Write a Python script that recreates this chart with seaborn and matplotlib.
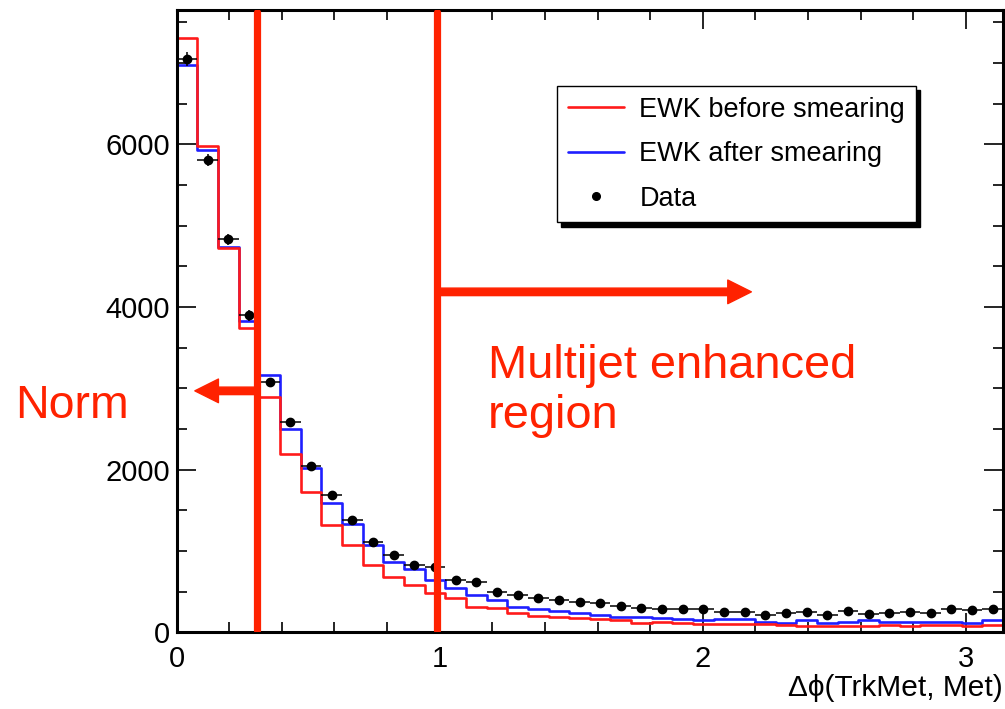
import numpy as np
import pandas as pd
import matplotlib
matplotlib.use("Agg")
import matplotlib.pyplot as plt
from matplotlib.lines import Line2D
from matplotlib.ticker import MultipleLocator
import seaborn as sns

# Binning: 40 uniform bins in delta-phi between 0 and pi
n_bins = 40
edges = np.linspace(0.0, np.pi, n_bins + 1)
centers = 0.5 * (edges[:-1] + edges[1:])

ewk_before = [7300, 5980, 4720, 3745, 2895, 2190, 1725, 1320, 1075, 830,
              685, 585, 480, 420, 316, 296, 234, 195, 193, 172,
              160, 152, 120, 131, 120, 102, 102, 102, 102, 94,
              80, 80, 80, 80, 90, 80, 90, 90, 80, 90]
ewk_after = [6975, 5930, 4737, 3825, 3169, 2500, 2020, 1589, 1334, 1075,
             870, 776, 644, 542, 459, 398, 316, 283, 266, 242,
             213, 193, 185, 180, 160, 152, 160, 160, 131, 119,
             152, 111, 131, 152, 131, 131, 131, 131, 111, 152]
data_counts = [7048, 5808, 4831, 3895, 3074, 2581, 2048, 1682, 1383, 1116,
               944, 829, 800, 644, 623, 500, 459, 419, 398, 377,
               365, 324, 303, 291, 283, 283, 254, 254, 213, 242,
               250, 213, 266, 225, 242, 254, 242, 283, 279, 283]

labels = ["EWK before smearing", "EWK after smearing", "Data"]
x_title = "\u0394\u03d5(TrkMet, Met)"

# Hand-drawn annotation positions (delta-phi, events)
norm_cut = 0.307
enhanced_cut = 0.99
norm_arrow = (0.069, 2968)
enhanced_arrow = (2.185, 4185)

red = "#ff1a1a"
blue = "#1f1fff"
annot = "#ff2200"

sns.set_style("ticks", {
    "axes.edgecolor": "black", "xtick.color": "black", "ytick.color": "black",
    "text.color": "black", "axes.labelcolor": "black",
    "xtick.direction": "in", "ytick.direction": "in",
})
plt.rcParams["font.family"] = ["Liberation Sans", "DejaVu Sans"]

fig = plt.figure(figsize=(10.05, 7.09), dpi=100)
ax = fig.add_axes([0.1758, 0.1082, 0.8222, 0.8777])

hist_df = pd.DataFrame({
    "dphi": np.tile(centers, 2),
    "events": np.r_[ewk_before, ewk_after],
    "sample": [labels[0]] * n_bins + [labels[1]] * n_bins,
})
sns.histplot(data=hist_df, x="dphi", weights="events", hue="sample",
             binwidth=np.pi / n_bins, binrange=(0.0, np.pi),
             element="step", fill=False,
             palette={labels[0]: red, labels[1]: blue},
             linewidth=1.9, legend=False, ax=ax)

data_counts = np.asarray(data_counts, dtype=float)
ax.errorbar(centers, data_counts, yerr=np.sqrt(data_counts),
            xerr=0.5 * np.diff(edges), fmt="o", color="black",
            markersize=6, elinewidth=1.1, capsize=0, zorder=4)

ax.set_xlim(0, np.pi)
ax.set_ylim(0, 7650)
ax.xaxis.set_major_locator(MultipleLocator(1))
ax.xaxis.set_minor_locator(MultipleLocator(0.2))
ax.yaxis.set_major_locator(MultipleLocator(2000))
ax.yaxis.set_minor_locator(MultipleLocator(500))
ax.tick_params(which="both", direction="in", top=True, right=True,
               width=1.2, labelsize=21)
ax.tick_params(which="major", length=14)
ax.tick_params(which="minor", length=7)
ax.tick_params(axis="x", pad=9)
ax.tick_params(axis="y", pad=5)
for s in ax.spines.values():
    s.set_linewidth(2.2)
    s.set_color("black")
    s.set_visible(True)

ax.set_ylabel("")
ax.set_xlabel(x_title, loc="right", fontsize=21.5, labelpad=1)

# Legend with a solid drop shadow
handles = [Line2D([], [], color=red, lw=1.9),
           Line2D([], [], color=blue, lw=1.9),
           Line2D([], [], color="black", marker="o", ls="none", markersize=5.5)]
leg = ax.legend(handles, labels, loc="upper left", bbox_to_anchor=(0.460, 0.878),
                fontsize=19.5, frameon=True, fancybox=False,
                shadow={"color": "black", "alpha": 1, "ox": 3, "oy": -3},
                edgecolor="black", framealpha=1, borderpad=0.4,
                labelspacing=0.68, handlelength=2.1, handletextpad=0.55,
                borderaxespad=0)
leg.get_frame().set_linewidth(1.0)

# Region boundaries and arrows
for xc in (norm_cut, enhanced_cut):
    ax.axvline(xc, ymin=0.004, ymax=0.996, color=annot, lw=5.2, zorder=6)

arrow_style = "simple,head_length=0.85,head_width=0.85,tail_width=0.27"
ax.annotate("", xy=norm_arrow, xytext=(norm_cut, norm_arrow[1]),
            arrowprops=dict(arrowstyle=arrow_style, mutation_scale=20,
                            color=annot, shrinkA=0, shrinkB=0), zorder=6)
ax.annotate("", xy=enhanced_arrow, xytext=(enhanced_cut, enhanced_arrow[1]),
            arrowprops=dict(arrowstyle=arrow_style, mutation_scale=20,
                            color=annot, shrinkA=0, shrinkB=0), zorder=6)

fig.text(0.0149, 1 - 418 / 709, "Norm", fontsize=33.5, color=annot, va="baseline")
fig.text(0.4856, 1 - 378 / 709, "Multijet enhanced", fontsize=33.8, color=annot,
         va="baseline")
fig.text(0.4856, 1 - 428 / 709, "region", fontsize=33.8, color=annot, va="baseline")

fig.savefig("out.png", dpi=100)
